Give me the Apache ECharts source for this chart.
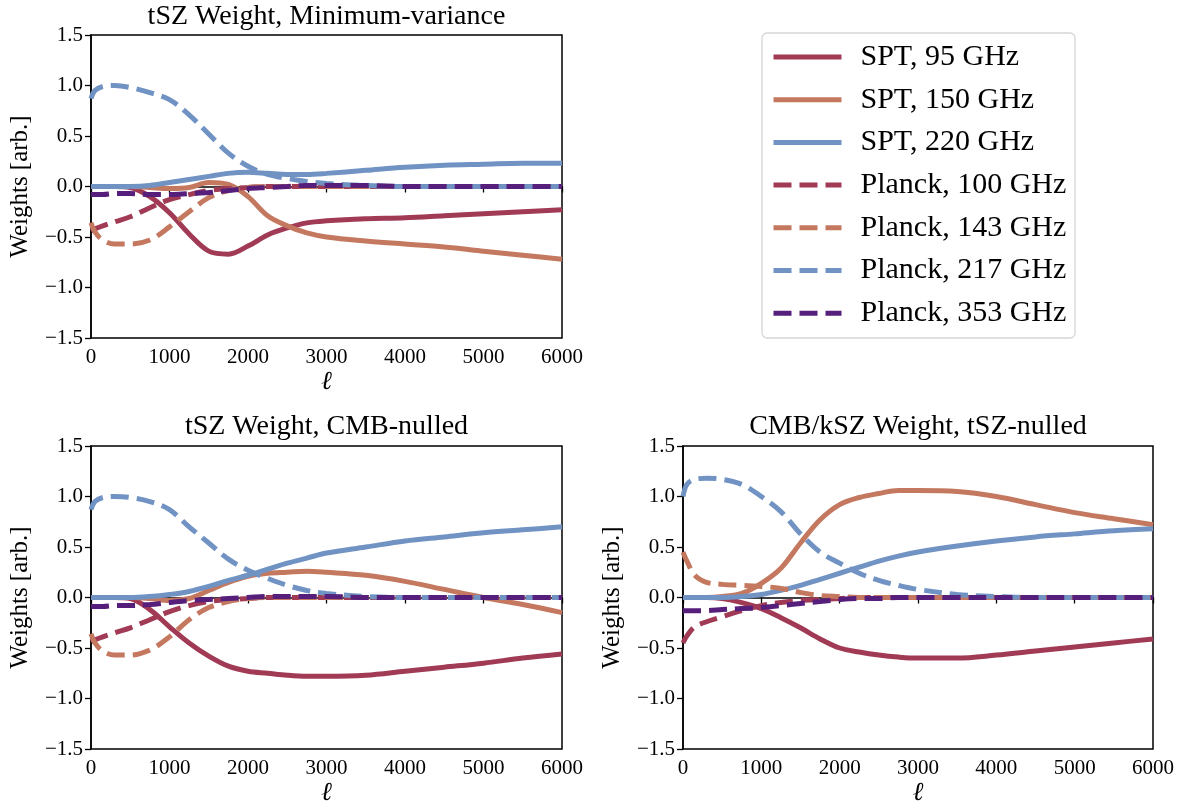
<!DOCTYPE html>
<html>
<head>
<meta charset="utf-8">
<script src="https://cdn.jsdelivr.net/npm/echarts@6/dist/echarts.min.js"></script>
<style>
  html, body { margin: 0; padding: 0; background: #fff; }
  #chart { width: 1183px; height: 808px; }
</style>
</head>
<body>
<div id="chart"></div>
<script>
// multipole sample points shared by all curves
const ell = [0, 50, 150, 300, 500, 750, 1000, 1250, 1500, 1750, 2000, 2250, 2500, 2750, 3000, 3500, 4000, 4500, 5000, 5500, 6000];

// tSZ weight, minimum-variance
const mvSpt95  = [0, 0, 0, 0, -0.01, -0.10, -0.26, -0.47, -0.64, -0.67, -0.59, -0.48, -0.41, -0.36, -0.34, -0.32, -0.31, -0.29, -0.27, -0.25, -0.23];
const mvSpt150 = [0, 0, 0, 0, 0, -0.01, -0.02, -0.01, 0.04, 0.02, -0.10, -0.29, -0.39, -0.46, -0.50, -0.54, -0.57, -0.60, -0.64, -0.68, -0.72];
const mvSpt220 = [0, 0, 0, 0, 0, 0.01, 0.04, 0.07, 0.10, 0.13, 0.14, 0.13, 0.12, 0.12, 0.13, 0.16, 0.19, 0.21, 0.22, 0.23, 0.23];
const mvP100   = [-0.44, -0.42, -0.39, -0.35, -0.30, -0.21, -0.13, -0.08, -0.04, -0.02, -0.01, 0, 0, 0, 0, 0, 0, 0, 0, 0, 0];
const mvP143   = [-0.36, -0.45, -0.53, -0.57, -0.57, -0.53, -0.40, -0.25, -0.11, -0.04, -0.01, 0, 0, 0, 0, 0, 0, 0, 0, 0, 0];
const mvP217   = [0.87, 0.95, 0.99, 1.00, 0.98, 0.93, 0.86, 0.71, 0.52, 0.33, 0.20, 0.12, 0.08, 0.05, 0.03, 0.01, 0, 0, 0, 0, 0];
const mvP353   = [-0.08, -0.08, -0.08, -0.07, -0.07, -0.08, -0.08, -0.07, -0.06, -0.04, -0.02, -0.01, 0, 0.01, 0.01, 0.01, 0, 0, 0, 0, 0];

// tSZ weight, CMB-nulled
const cnSpt95  = [0, 0, 0, 0, -0.01, -0.12, -0.29, -0.45, -0.58, -0.68, -0.73, -0.75, -0.77, -0.78, -0.78, -0.77, -0.73, -0.69, -0.65, -0.60, -0.56];
const cnSpt150 = [0, 0, 0, 0, 0, -0.01, -0.03, -0.01, 0.07, 0.15, 0.21, 0.24, 0.25, 0.26, 0.25, 0.22, 0.16, 0.08, 0.00, -0.07, -0.15];
const cnSpt220 = [0, 0, 0, 0, 0, 0.01, 0.03, 0.06, 0.11, 0.17, 0.22, 0.28, 0.34, 0.39, 0.44, 0.50, 0.56, 0.60, 0.64, 0.67, 0.70];
const cnP100   = [-0.44, -0.42, -0.39, -0.35, -0.30, -0.22, -0.14, -0.08, -0.04, -0.02, -0.01, 0, 0, 0, 0, 0, 0, 0, 0, 0, 0];
const cnP143   = [-0.36, -0.45, -0.53, -0.57, -0.57, -0.52, -0.39, -0.22, -0.10, -0.04, -0.01, 0, 0, 0, 0, 0, 0, 0, 0, 0, 0];
const cnP217   = [0.87, 0.95, 0.99, 1.00, 0.99, 0.95, 0.87, 0.70, 0.54, 0.38, 0.27, 0.19, 0.12, 0.07, 0.04, 0.01, 0, 0, 0, 0, 0];
const cnP353   = [-0.09, -0.09, -0.09, -0.08, -0.08, -0.07, -0.05, -0.03, -0.02, -0.01, 0, 0.01, 0.01, 0.01, 0.01, 0, 0, 0, 0, 0, 0];

// CMB/kSZ weight, tSZ-nulled
const tnSpt95  = [0, 0, 0, 0, -0.01, -0.05, -0.11, -0.20, -0.30, -0.41, -0.50, -0.54, -0.57, -0.59, -0.60, -0.60, -0.57, -0.53, -0.49, -0.45, -0.41];
const tnSpt150 = [0, 0, 0, 0, 0.01, 0.04, 0.14, 0.29, 0.54, 0.77, 0.92, 0.99, 1.03, 1.06, 1.06, 1.05, 1.00, 0.92, 0.84, 0.78, 0.72];
const tnSpt220 = [0, 0, 0, 0, 0, 0.01, 0.03, 0.07, 0.12, 0.18, 0.24, 0.30, 0.36, 0.41, 0.45, 0.51, 0.56, 0.60, 0.63, 0.66, 0.68];
const tnP100   = [-0.45, -0.38, -0.29, -0.24, -0.19, -0.13, -0.08, -0.05, -0.03, -0.02, -0.01, 0, 0, 0, 0, 0, 0, 0, 0, 0, 0];
const tnP143   = [0.45, 0.36, 0.22, 0.15, 0.13, 0.12, 0.11, 0.09, 0.05, 0.02, 0.01, 0, 0, 0, 0, 0, 0, 0, 0, 0, 0];
const tnP217   = [1.00, 1.12, 1.17, 1.18, 1.17, 1.12, 1.00, 0.85, 0.63, 0.45, 0.34, 0.24, 0.17, 0.12, 0.08, 0.03, 0.01, 0, 0, 0, 0];
const tnP353   = [-0.13, -0.13, -0.13, -0.13, -0.12, -0.11, -0.10, -0.08, -0.06, -0.04, -0.02, -0.01, -0.01, 0, 0, 0, 0, 0, 0, 0, 0];

const names = ['SPT, 95 GHz', 'SPT, 150 GHz', 'SPT, 220 GHz', 'Planck, 100 GHz', 'Planck, 143 GHz', 'Planck, 217 GHz', 'Planck, 353 GHz'];
const colors = ['#a13a55', '#c4785f', '#7093c3', '#a13a55', '#c4785f', '#7093c3', '#561f7b'];
const dashed = [false, false, false, true, true, true, true];
const titles = ['tSZ Weight, Minimum-variance', 'tSZ Weight, CMB-nulled', 'CMB/kSZ Weight, tSZ-nulled'];
const panels = [
  [mvSpt95, mvSpt150, mvSpt220, mvP100, mvP143, mvP217, mvP353],
  [cnSpt95, cnSpt150, cnSpt220, cnP100, cnP143, cnP217, cnP353],
  [tnSpt95, tnSpt150, tnSpt220, tnP100, tnP143, tnP217, tnP353]
];

const FONT = '"Liberation Serif", "Times New Roman", serif';
const LW = 5;
const DASH = [18, 8];
const grids = [
  { left: 91, top: 35, width: 471, height: 303 },
  { left: 91, top: 446, width: 471, height: 303 },
  { left: 683, top: 446, width: 470, height: 303 }
];

const chart = echarts.init(document.getElementById('chart'));

const xAxes = grids.map((g, i) => ({
  type: 'value', gridIndex: i, min: 0, max: 6000, interval: 1000,
  name: 'ℓ', nameLocation: 'middle', nameGap: 31,
  nameTextStyle: { fontFamily: FONT, fontSize: 26, fontStyle: 'italic', color: '#000' },
  axisLine: { show: true, lineStyle: { color: '#000', width: 1.5 } },
  axisTick: { show: true, inside: false, length: 6, lineStyle: { color: '#000', width: 1.3 } },
  axisLabel: { fontFamily: FONT, fontSize: 21, color: '#000', margin: 9, formatter: v => String(v) },
  splitLine: { show: false }
}));

const yAxes = grids.map((g, i) => ({
  type: 'value', gridIndex: i, min: -1.5, max: 1.5, interval: 0.5,
  name: 'Weights [arb.]', nameLocation: 'middle', nameGap: 58,
  nameTextStyle: { fontFamily: FONT, fontSize: 25, color: '#000' },
  axisLine: { show: true, lineStyle: { color: '#000', width: 1.5 } },
  axisTick: { show: true, inside: false, length: 6, lineStyle: { color: '#000', width: 1.3 } },
  axisLabel: {
    fontFamily: FONT, fontSize: 21, color: '#000', margin: 8,
    formatter: v => v.toFixed(1).replace('-', '\u2212')
  },
  splitLine: { show: false }
}));

const series = [];
panels.forEach((curves, p) => {
  curves.forEach((vals, k) => {
    series.push({
      name: names[k],
      type: 'line',
      xAxisIndex: p,
      yAxisIndex: p,
      data: ell.map((l, j) => [l, vals[j]]),
      smooth: 0.35,
      symbol: 'none',
      silent: true,
      color: colors[k],
      lineStyle: {
        color: colors[k],
        width: LW,
        type: dashed[k] ? DASH : 'solid',
        cap: 'butt'
      }
    });
  });
});

const option = {
  animation: false,
  backgroundColor: '#fff',
  title: titles.map((t, i) => ({
    text: t,
    left: grids[i].left + grids[i].width / 2,
    top: i === 0 ? 3 : 413,
    textAlign: 'center',
    padding: 0,
    textStyle: { fontFamily: FONT, fontSize: 28, fontWeight: 'normal', color: '#000' }
  })),
  grid: grids.map(g => Object.assign({ show: true, borderColor: '#000', borderWidth: 1.5, backgroundColor: 'transparent' }, g)),
  xAxis: xAxes,
  yAxis: yAxes,
  legend: {
    orient: 'vertical',
    left: 771,
    top: 42,
    padding: 0,
    itemWidth: 68,
    itemHeight: 30,
    itemGap: 12.7,
    selectedMode: false,
    itemStyle: { opacity: 0 },
    data: names.map((n, k) => ({
      name: n,
      lineStyle: { color: colors[k], width: LW, type: dashed[k] ? DASH : 'solid', cap: 'butt', opacity: 1 }
    })),
    textStyle: { fontFamily: FONT, fontSize: 30, color: '#000', lineHeight: 30, padding: [0, 0, 0, 14] }
  },
  graphic: [{
    type: 'rect',
    shape: { x: 762, y: 33, width: 313, height: 305, r: 5 },
    style: { fill: 'none', stroke: '#d6d6d6', lineWidth: 1.3 },
    silent: true
  }],
  series: series
};

chart.setOption(option);
</script>
</body>
</html>
